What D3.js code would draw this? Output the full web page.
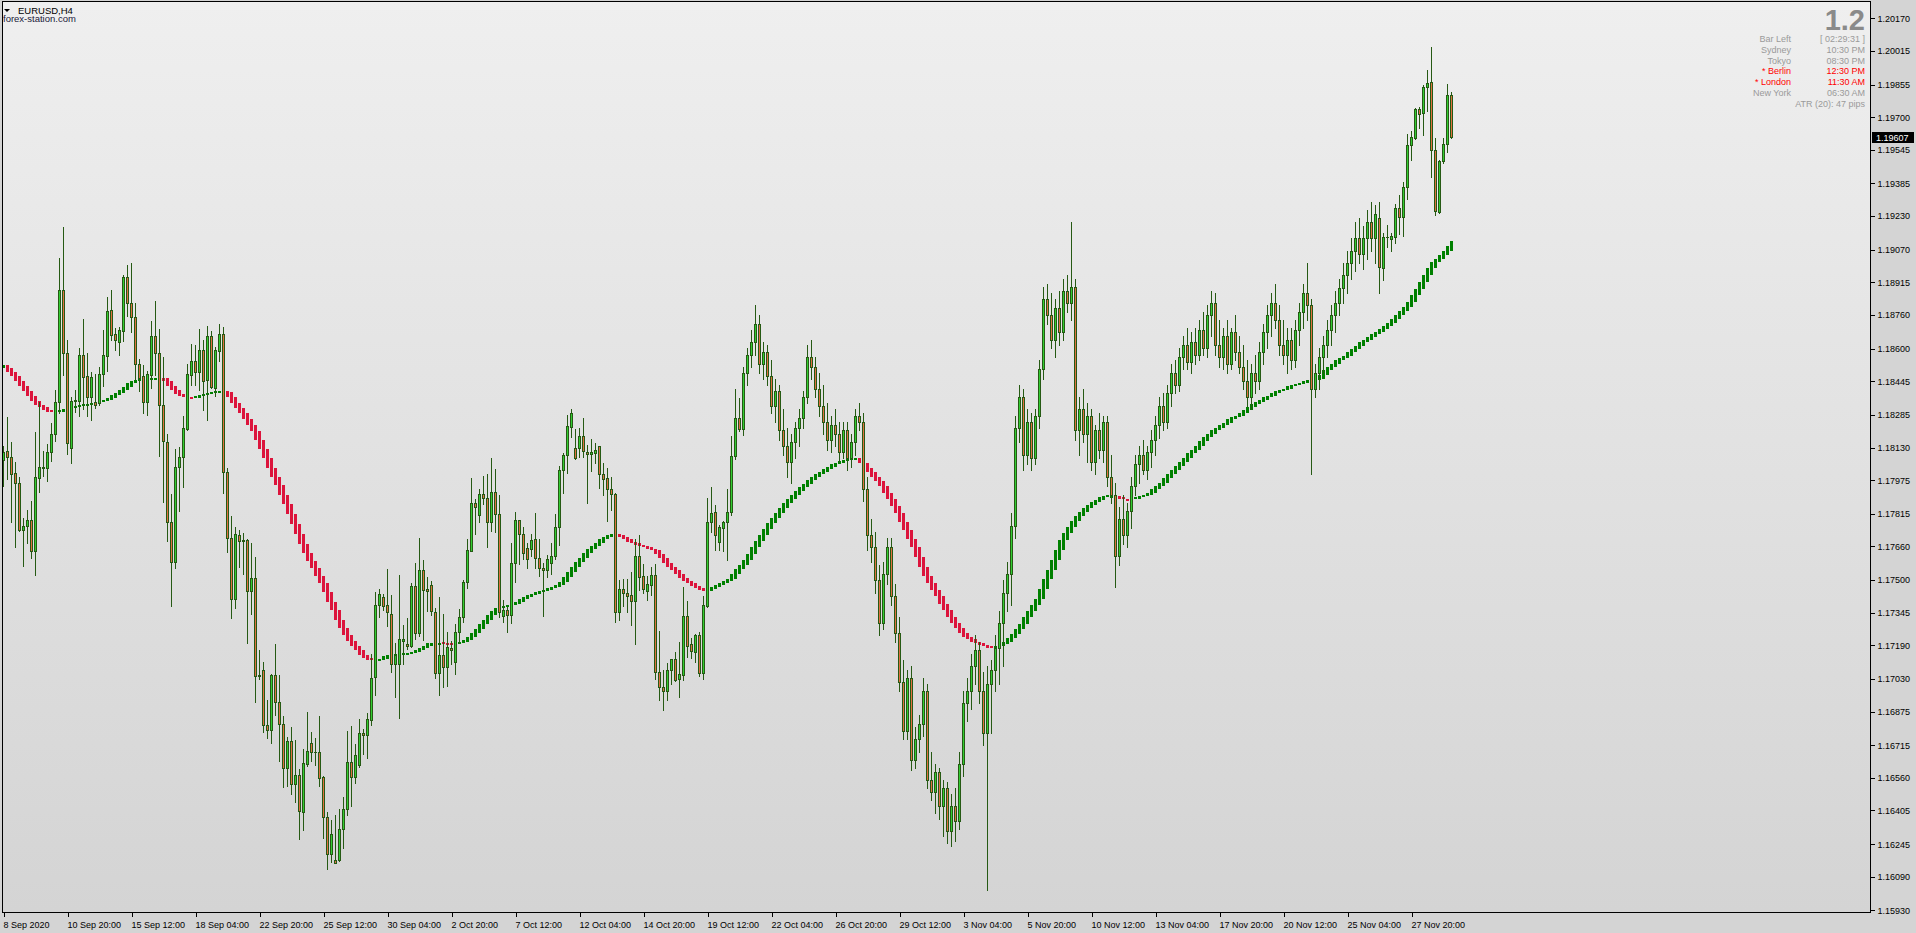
<!DOCTYPE html>
<html><head><meta charset="utf-8">
<script src="https://cdn.jsdelivr.net/npm/d3@7"></script>
<style>
html,body{margin:0;padding:0;background:#d4d4d4;overflow:hidden;}
svg{display:block;}
text{font-family:"Liberation Sans",Arial,sans-serif;}
</style></head><body>
<svg id="c" width="1916" height="933"></svg>
<script>
// ---------- DATA ----------
const opens = [1.18073,1.18115,1.18083,1.18010,1.17962,1.17736,1.17755,1.17784,1.17636,1.17987,
1.18037,1.18031,1.18108,1.18192,1.18345,1.18878,1.18579,1.18129,1.18349,1.18353,
1.18570,1.18470,1.18372,1.18347,1.18340,1.18478,1.18564,1.18783,1.18669,1.18633,
1.18685,1.18940,1.18819,1.18748,1.18529,1.18470,1.18345,1.18476,1.18660,1.18579,
1.18332,1.18156,1.17774,1.17588,1.18037,1.18083,1.18219,1.18476,1.18539,1.18487,
1.18593,1.18449,1.18660,1.18414,1.18591,1.18669,1.18014,1.17701,1.17410,1.17713,
1.17690,1.17690,1.17448,1.17509,1.17043,1.17074,1.16813,1.16788,1.17051,1.16919,
1.16815,1.16606,1.16735,1.16533,1.16572,1.16397,1.16627,1.16725,1.16685,1.16683,
1.16562,1.16374,1.16198,1.16171,1.16171,1.16317,1.16411,1.16637,1.16564,1.16620,
1.16773,1.16762,1.16834,1.17038,1.17383,1.17419,1.17383,1.17341,1.17101,1.17101,
1.17210,1.17197,1.17185,1.17471,1.17247,1.17546,1.17458,1.17475,1.17348,1.17059,
1.17143,1.17086,1.17176,1.17111,1.17252,1.17325,1.17492,1.17640,1.17866,1.17807,
1.17910,1.17889,1.17778,1.17917,1.17813,1.17331,1.17356,1.17336,1.17580,1.17784,
1.17717,1.17653,1.17649,1.17693,1.17607,1.17556,1.17546,1.17580,1.17613,1.17753,
1.18022,1.18093,1.18229,1.18126,1.18126,1.18184,1.18111,1.18097,1.18106,1.18135,
1.18004,1.17984,1.17933,1.17911,1.17347,1.17456,1.17440,1.17429,1.17402,1.17616,
1.17518,1.17449,1.17478,1.17522,1.17065,1.16994,1.16974,1.17071,1.17124,1.17031,
1.17047,1.17327,1.17195,1.17156,1.17238,1.17056,1.17376,1.17775,1.17824,1.17682,
1.17749,1.17775,1.17824,1.18088,1.18269,1.18218,1.18485,1.18572,1.18631,1.18718,
1.18526,1.18584,1.18468,1.18328,1.18398,1.18212,1.18137,1.18061,1.18154,1.18224,
1.18270,1.18369,1.18561,1.18514,1.18410,1.18328,1.18253,1.18166,1.18235,1.18195,
1.18108,1.18212,1.18079,1.18154,1.18282,1.18253,1.17933,1.17713,1.17655,1.17498,
1.17295,1.17527,1.17655,1.17423,1.17249,1.17016,1.16783,1.17033,1.16644,1.16743,
1.16818,1.16975,1.16551,1.16493,1.16586,1.16424,1.16511,1.16308,1.16424,1.16354,
1.16627,1.16917,1.16975,1.17092,1.17167,1.16975,1.16772,1.17004,1.17074,1.17179,
1.17295,1.17440,1.17527,1.17759,1.18224,1.18369,1.18096,1.18253,1.18079,1.18282,
1.18503,1.18834,1.18758,1.18642,1.18793,1.18677,1.18874,1.18816,1.18892,1.18212,
1.18311,1.18195,1.18282,1.18061,1.18212,1.18119,1.18253,1.17991,1.17904,1.17614,
1.17788,1.17713,1.17829,1.17945,1.18050,1.18096,1.18021,1.18108,1.18166,1.18235,
1.18328,1.18253,1.18387,1.18485,1.18427,1.18561,1.18619,1.18538,1.18631,1.18572,
1.18688,1.18602,1.18758,1.18816,1.18619,1.18561,1.18660,1.18526,1.18677,1.18584,
1.18514,1.18445,1.18369,1.18485,1.18445,1.18584,1.18677,1.18758,1.18816,1.18735,
1.18619,1.18572,1.18642,1.18544,1.18688,1.18776,1.18863,1.18805,1.18410,1.18485,
1.18561,1.18619,1.18688,1.18758,1.18816,1.18886,1.18950,1.19008,1.19066,1.19124,
1.19049,1.19124,1.19200,1.19124,1.19223,1.18982,1.19129,1.19123,1.19132,1.19267,
1.19227,1.19367,1.19566,1.19600,1.19737,1.19722,1.19845,1.19866,1.19543,1.19251,
1.19493,1.19571,1.19804];
const highs = [1.18136,1.18276,1.18156,1.18060,1.17989,1.17795,1.17833,1.17874,1.18202,1.18345,
1.18113,1.18146,1.18246,1.18403,1.19030,1.19176,1.18643,1.18370,1.18403,1.18604,
1.18742,1.18579,1.18491,1.18480,1.18512,1.18689,1.18846,1.18878,1.18700,1.18704,
1.18951,1.18997,1.19007,1.18817,1.18552,1.18522,1.18493,1.18729,1.18825,1.18694,
1.18558,1.18194,1.17910,1.18121,1.18134,1.18282,1.18526,1.18623,1.18616,1.18694,
1.18641,1.18708,1.18683,1.18608,1.18717,1.18702,1.18031,1.17805,1.17753,1.17738,
1.17722,1.17697,1.17678,1.17611,1.17168,1.17111,1.16932,1.17055,1.17197,1.17051,
1.16854,1.16752,1.16802,1.16742,1.16604,1.16698,1.16873,1.16779,1.16750,1.16854,
1.16568,1.16399,1.16359,1.16384,1.16411,1.16468,1.16783,1.16808,1.16719,1.16842,
1.16794,1.16869,1.17149,1.17444,1.17458,1.17433,1.17552,1.17429,1.17201,1.17523,
1.17287,1.17318,1.17488,1.17582,1.17701,1.17596,1.17513,1.17496,1.17369,1.17421,
1.17341,1.17254,1.17212,1.17289,1.17364,1.17500,1.17697,1.17983,1.17885,1.17933,
1.17993,1.18004,1.18081,1.18028,1.17904,1.17407,1.17371,1.17676,1.17824,1.17787,
1.17753,1.17678,1.17718,1.17818,1.17695,1.17580,1.17620,1.17676,1.17813,1.18040,
1.18104,1.18286,1.18313,1.18218,1.18222,1.18269,1.18140,1.18169,1.18151,1.18138,
1.18057,1.18033,1.17989,1.17913,1.17500,1.17507,1.17507,1.17536,1.17693,1.17715,
1.17576,1.17520,1.17560,1.17578,1.17258,1.17073,1.17104,1.17127,1.17158,1.17205,
1.17467,1.17400,1.17224,1.17242,1.17253,1.17424,1.17889,1.17942,1.17857,1.17762,
1.17782,1.17935,1.18186,1.18408,1.18366,1.18514,1.18602,1.18688,1.18805,1.18758,
1.18631,1.18619,1.18544,1.18456,1.18427,1.18311,1.18224,1.18195,1.18253,1.18311,
1.18398,1.18619,1.18642,1.18561,1.18485,1.18427,1.18340,1.18282,1.18311,1.18253,
1.18253,1.18253,1.18195,1.18311,1.18340,1.18294,1.17991,1.17788,1.17730,1.17574,
1.17585,1.17701,1.17701,1.17481,1.17324,1.17121,1.17074,1.17092,1.16801,1.16859,
1.17033,1.17004,1.16685,1.16627,1.16609,1.16551,1.16540,1.16482,1.16511,1.16685,
1.16975,1.17033,1.17150,1.17237,1.17208,1.17062,1.17092,1.17121,1.17237,1.17353,
1.17498,1.17585,1.17817,1.18282,1.18427,1.18410,1.18311,1.18294,1.18311,1.18544,
1.18892,1.18909,1.18863,1.18834,1.18874,1.18932,1.18950,1.19200,1.18932,1.18369,
1.18410,1.18340,1.18311,1.18235,1.18294,1.18282,1.18282,1.18096,1.17962,1.17846,
1.17904,1.17864,1.17991,1.18096,1.18137,1.18166,1.18137,1.18212,1.18282,1.18369,
1.18387,1.18427,1.18526,1.18544,1.18602,1.18660,1.18700,1.18677,1.18700,1.18735,
1.18776,1.18805,1.18874,1.18863,1.18735,1.18700,1.18735,1.18700,1.18758,1.18660,
1.18619,1.18544,1.18526,1.18572,1.18631,1.18718,1.18805,1.18863,1.18909,1.18805,
1.18735,1.18700,1.18700,1.18735,1.18816,1.18909,1.19008,1.18834,1.18526,1.18602,
1.18660,1.18735,1.18805,1.18874,1.18932,1.19008,1.19066,1.19124,1.19200,1.19223,
1.19182,1.19258,1.19298,1.19281,1.19298,1.19148,1.19188,1.19148,1.19287,1.19330,
1.19390,1.19620,1.19634,1.19742,1.19747,1.19851,1.19924,1.20034,1.19600,1.19497,
1.19601,1.19856,1.19820];
const lows = [1.17947,1.17979,1.17776,1.17655,1.17734,1.17569,1.17674,1.17607,1.17525,1.17920,
1.17993,1.17973,1.18067,1.18159,1.18292,1.18476,1.18100,1.18058,1.18299,1.18282,
1.18313,1.18278,1.18261,1.18317,1.18334,1.18424,1.18495,1.18641,1.18593,1.18572,
1.18637,1.18754,1.18679,1.18455,1.18397,1.18292,1.18284,1.18411,1.18476,1.18092,
1.17872,1.17688,1.17375,1.17557,1.17830,1.17941,1.18215,1.18428,1.18428,1.18401,
1.18307,1.18263,1.18414,1.18374,1.18541,1.17912,1.17632,1.17318,1.17366,1.17561,
1.17527,1.17203,1.17337,1.16919,1.17028,1.16779,1.16748,1.16725,1.16857,1.16641,
1.16516,1.16520,1.16484,1.16443,1.16269,1.16311,1.16616,1.16641,1.16620,1.16522,
1.16275,1.16125,1.16161,1.16154,1.16167,1.16227,1.16384,1.16426,1.16537,1.16610,
1.16673,1.16654,1.16811,1.16953,1.17323,1.17360,1.17283,1.17061,1.16944,1.16846,
1.17099,1.17174,1.17183,1.17222,1.17233,1.17216,1.17352,1.17335,1.17034,1.16955,
1.16992,1.16997,1.17101,1.17053,1.17203,1.17302,1.17463,1.17638,1.17718,1.17778,
1.17862,1.17655,1.17732,1.17729,1.17325,1.17302,1.17251,1.17298,1.17493,1.17578,
1.17602,1.17558,1.17616,1.17558,1.17520,1.17331,1.17516,1.17531,1.17602,1.17667,
1.17913,1.18011,1.18182,1.18077,1.18086,1.18086,1.17866,1.18020,1.18055,1.17937,
1.17904,1.17780,1.17835,1.17302,1.17309,1.17378,1.17347,1.17285,1.17196,1.17453,
1.17440,1.17405,1.17429,1.17029,1.16929,1.16883,1.16929,1.17007,1.17018,1.16942,
1.17025,1.17134,1.17131,1.17111,1.17044,1.17031,1.17371,1.17729,1.17644,1.17642,
1.17640,1.17596,1.17811,1.18077,1.18208,1.18189,1.18427,1.18514,1.18572,1.18485,
1.18456,1.18427,1.18294,1.18253,1.18166,1.18096,1.17991,1.17962,1.18079,1.18137,
1.18224,1.18340,1.18456,1.18369,1.18282,1.18195,1.18119,1.18108,1.18137,1.18061,
1.18079,1.18021,1.18038,1.18096,1.18212,1.17875,1.17643,1.17585,1.17440,1.17237,
1.17266,1.17481,1.17382,1.17208,1.16975,1.16743,1.16743,1.16598,1.16609,1.16685,
1.16760,1.16511,1.16453,1.16395,1.16366,1.16284,1.16250,1.16238,1.16261,1.16319,
1.16569,1.16830,1.16888,1.17004,1.16917,1.16714,1.16029,1.16772,1.16975,1.17004,
1.17092,1.17353,1.17382,1.17701,1.18154,1.18021,1.18050,1.18021,1.18050,1.18224,
1.18456,1.18718,1.18602,1.18561,1.18619,1.18642,1.18776,1.18735,1.18166,1.18096,
1.18154,1.18061,1.18021,1.18003,1.18079,1.18061,1.17945,1.17864,1.17469,1.17574,
1.17672,1.17655,1.17748,1.17904,1.17962,1.18003,1.17980,1.18038,1.18096,1.18177,
1.18212,1.18224,1.18328,1.18387,1.18398,1.18503,1.18503,1.18485,1.18526,1.18544,
1.18572,1.18561,1.18660,1.18572,1.18514,1.18503,1.18485,1.18503,1.18544,1.18485,
1.18410,1.18328,1.18311,1.18387,1.18410,1.18526,1.18602,1.18660,1.18700,1.18572,
1.18526,1.18485,1.18503,1.18514,1.18619,1.18700,1.18735,1.18003,1.18369,1.18410,
1.18485,1.18561,1.18619,1.18677,1.18758,1.18816,1.18863,1.18932,1.18967,1.19008,
1.18979,1.19025,1.19066,1.19008,1.18863,1.18926,1.19085,1.19066,1.19101,1.19146,
1.19135,1.19311,1.19497,1.19598,1.19650,1.19615,1.19731,1.19417,1.19235,1.19246,
1.19481,1.19536,1.19603];
const closes = [1.18111,1.18083,1.18006,1.17962,1.17736,1.17757,1.17784,1.17636,1.17989,1.18037,
1.18031,1.18108,1.18192,1.18345,1.18878,1.18579,1.18150,1.18349,1.18355,1.18570,
1.18464,1.18372,1.18466,1.18330,1.18480,1.18570,1.18779,1.18666,1.18639,1.18689,
1.18940,1.18819,1.18748,1.18529,1.18460,1.18345,1.18480,1.18660,1.18577,1.18330,
1.18163,1.17774,1.17588,1.18037,1.18083,1.18223,1.18478,1.18539,1.18487,1.18593,
1.18445,1.18660,1.18416,1.18593,1.18669,1.18014,1.17701,1.17410,1.17718,1.17686,
1.17684,1.17448,1.17509,1.17043,1.17049,1.16811,1.16788,1.17051,1.16919,1.16815,
1.16606,1.16735,1.16530,1.16572,1.16401,1.16631,1.16687,1.16683,1.16683,1.16558,
1.16374,1.16198,1.16292,1.16156,1.16317,1.16411,1.16637,1.16564,1.16668,1.16773,
1.16762,1.16840,1.17034,1.17383,1.17433,1.17379,1.17348,1.17101,1.17143,1.17220,
1.17222,1.17185,1.17471,1.17247,1.17546,1.17452,1.17446,1.17352,1.17059,1.17145,
1.17086,1.17180,1.17166,1.17252,1.17325,1.17492,1.17642,1.17864,1.17847,1.17908,
1.17889,1.17778,1.17918,1.17813,1.17347,1.17358,1.17336,1.17580,1.17784,1.17717,
1.17631,1.17602,1.17689,1.17607,1.17556,1.17546,1.17602,1.17613,1.17753,1.18022,
1.18093,1.18231,1.18293,1.18078,1.18184,1.18113,1.18097,1.18108,1.18118,1.18002,
1.17982,1.17935,1.17911,1.17347,1.17456,1.17440,1.17425,1.17402,1.17615,1.17516,
1.17458,1.17480,1.17522,1.17065,1.16993,1.16974,1.17074,1.17124,1.17025,1.17053,
1.17327,1.17189,1.17165,1.17238,1.17056,1.17380,1.17775,1.17818,1.17713,1.17753,
1.17777,1.17824,1.18088,1.18269,1.18220,1.18485,1.18572,1.18631,1.18718,1.18526,
1.18584,1.18468,1.18328,1.18398,1.18212,1.18137,1.18061,1.18154,1.18224,1.18270,
1.18369,1.18561,1.18514,1.18410,1.18328,1.18253,1.18166,1.18235,1.18195,1.18108,
1.18212,1.18079,1.18154,1.18282,1.18253,1.17933,1.17713,1.17655,1.17498,1.17295,
1.17527,1.17655,1.17423,1.17249,1.17016,1.16783,1.17033,1.16644,1.16743,1.16818,
1.16975,1.16551,1.16493,1.16586,1.16424,1.16511,1.16308,1.16424,1.16354,1.16627,
1.16917,1.16975,1.17092,1.17167,1.16975,1.16772,1.17004,1.17074,1.17179,1.17295,
1.17440,1.17527,1.17759,1.18224,1.18369,1.18096,1.18253,1.18079,1.18282,1.18503,
1.18834,1.18758,1.18642,1.18793,1.18677,1.18874,1.18816,1.18892,1.18212,1.18311,
1.18195,1.18282,1.18061,1.18212,1.18119,1.18253,1.17991,1.17904,1.17614,1.17788,
1.17713,1.17829,1.17945,1.18050,1.18096,1.18021,1.18108,1.18166,1.18235,1.18328,
1.18253,1.18387,1.18485,1.18427,1.18561,1.18619,1.18538,1.18631,1.18572,1.18688,
1.18602,1.18758,1.18816,1.18619,1.18561,1.18660,1.18526,1.18677,1.18584,1.18514,
1.18445,1.18369,1.18485,1.18445,1.18584,1.18677,1.18758,1.18816,1.18735,1.18619,
1.18572,1.18642,1.18544,1.18688,1.18776,1.18863,1.18805,1.18410,1.18485,1.18561,
1.18619,1.18688,1.18758,1.18816,1.18886,1.18950,1.19008,1.19066,1.19124,1.19049,
1.19124,1.19200,1.19124,1.19240,1.18990,1.19129,1.19131,1.19135,1.19267,1.19227,
1.19367,1.19566,1.19604,1.19739,1.19717,1.19842,1.19861,1.19543,1.19256,1.19490,
1.19571,1.19804,1.19607];
const maValues = [1.18522,1.18506,1.18487,1.18468,1.18447,1.18422,1.18397,1.18374,1.18351,1.18332,
1.18322,1.18309,1.18301,1.18299,1.18301,1.18309,1.18315,1.18320,1.18324,1.18326,
1.18332,1.18336,1.18338,1.18340,1.18345,1.18349,1.18357,1.18365,1.18380,1.18391,
1.18401,1.18420,1.18437,1.18447,1.18453,1.18455,1.18457,1.18458,1.18459,1.18460,
1.18459,1.18447,1.18424,1.18405,1.18386,1.18374,1.18368,1.18365,1.18366,1.18374,
1.18378,1.18384,1.18388,1.18393,1.18399,1.18397,1.18393,1.18372,1.18343,1.18320,
1.18292,1.18265,1.18236,1.18207,1.18167,1.18125,1.18079,1.18035,1.17991,1.17952,
1.17906,1.17860,1.17812,1.17766,1.17720,1.17672,1.17628,1.17590,1.17555,1.17521,
1.17486,1.17444,1.17398,1.17356,1.17310,1.17272,1.17239,1.17210,1.17187,1.17166,
1.17145,1.17130,1.17120,1.17118,1.17120,1.17126,1.17137,1.17143,1.17145,1.17147,
1.17147,1.17153,1.17155,1.17160,1.17170,1.17178,1.17189,1.17199,1.17203,1.17204,
1.17201,1.17199,1.17198,1.17199,1.17201,1.17206,1.17214,1.17231,1.17247,1.17268,
1.17291,1.17312,1.17335,1.17355,1.17369,1.17376,1.17377,1.17380,1.17387,1.17398,
1.17409,1.17420,1.17427,1.17436,1.17444,1.17446,1.17451,1.17460,1.17466,1.17478,
1.17491,1.17515,1.17536,1.17560,1.17584,1.17606,1.17627,1.17646,1.17660,1.17676,
1.17693,1.17706,1.17713,1.17717,1.17713,1.17706,1.17693,1.17682,1.17675,1.17669,
1.17662,1.17656,1.17647,1.17642,1.17624,1.17606,1.17582,1.17562,1.17547,1.17527,
1.17511,1.17495,1.17485,1.17471,1.17462,1.17451,1.17450,1.17456,1.17466,1.17475,
1.17484,1.17495,1.17507,1.17529,1.17551,1.17574,1.17597,1.17626,1.17655,1.17684,
1.17713,1.17742,1.17771,1.17794,1.17818,1.17841,1.17864,1.17887,1.17905,1.17922,
1.17940,1.17957,1.17974,1.17992,1.18003,1.18015,1.18027,1.18038,1.18050,1.18056,
1.18067,1.18073,1.18079,1.18082,1.18079,1.18056,1.18033,1.18015,1.17992,1.17969,
1.17945,1.17916,1.17887,1.17852,1.17818,1.17777,1.17736,1.17696,1.17655,1.17609,
1.17562,1.17521,1.17487,1.17452,1.17423,1.17388,1.17359,1.17324,1.17295,1.17272,
1.17248,1.17231,1.17219,1.17208,1.17202,1.17190,1.17185,1.17179,1.17181,1.17186,
1.17196,1.17208,1.17225,1.17243,1.17266,1.17289,1.17324,1.17353,1.17382,1.17411,
1.17458,1.17504,1.17550,1.17597,1.17643,1.17690,1.17725,1.17754,1.17783,1.17806,
1.17823,1.17841,1.17858,1.17870,1.17882,1.17893,1.17899,1.17905,1.17899,1.17893,
1.17887,1.17884,1.17886,1.17887,1.17893,1.17899,1.17905,1.17916,1.17934,1.17945,
1.17963,1.17986,1.18003,1.18021,1.18044,1.18062,1.18079,1.18102,1.18120,1.18137,
1.18160,1.18178,1.18195,1.18213,1.18224,1.18236,1.18247,1.18265,1.18276,1.18282,
1.18294,1.18306,1.18323,1.18335,1.18346,1.18358,1.18369,1.18375,1.18387,1.18398,
1.18404,1.18410,1.18422,1.18427,1.18433,1.18439,1.18445,1.18451,1.18452,1.18457,
1.18474,1.18497,1.18515,1.18526,1.18544,1.18555,1.18567,1.18584,1.18596,1.18613,
1.18631,1.18642,1.18655,1.18668,1.18680,1.18693,1.18708,1.18723,1.18741,1.18758,
1.18777,1.18800,1.18822,1.18853,1.18883,1.18915,1.18948,1.18985,1.19010,1.19026,
1.19044,1.19063,1.19088];
const priceTicks = [1.20170,1.20015,1.19855,1.19700,1.19545,1.19385,1.19230,1.19070,1.18915,1.18760,
1.18600,1.18445,1.18285,1.18130,1.17975,1.17815,1.17660,1.17500,1.17345,1.17190,
1.17030,1.16875,1.16715,1.16560,1.16405,1.16245,1.16090,1.15930];
const timeLabels = ["8 Sep 2020","10 Sep 20:00","15 Sep 12:00","18 Sep 04:00","22 Sep 20:00","25 Sep 12:00",
"30 Sep 04:00","2 Oct 20:00","7 Oct 12:00","12 Oct 04:00","14 Oct 20:00","19 Oct 12:00","22 Oct 04:00",
"26 Oct 20:00","29 Oct 12:00","3 Nov 04:00","5 Nov 20:00","10 Nov 12:00","13 Nov 04:00","17 Nov 20:00",
"20 Nov 12:00","25 Nov 04:00","27 Nov 20:00"];
const barsPerLabel = 16;
const currentPrice = 1.19607;
const symbolTitle = "EURUSD,H4";
const siteName = "forex-station.com";
const bigValue = "1.2";
const sessionNames = ["Bar Left","Sydney","Tokyo","* Berlin","* London","New York"];
const sessionTimes = ["[ 02:29:31 ]","10:30 PM","08:30 PM","12:30 PM","11:30 AM","06:30 AM"];
const sessionOpen = [false,false,false,true,true,false];
const atrText = "ATR (20): 47 pips";

// ---------- LAYOUT ----------
const W = 1916, H = 933;
const L = 2, T = 1, R = 1870, B = 912;
const svg = d3.select("#c");
const defs = svg.append("defs");
const grad = defs.append("linearGradient").attr("id","bg").attr("x1",0).attr("y1",0).attr("x2",0).attr("y2",1);
grad.append("stop").attr("offset","0%").attr("stop-color","#efefef");
grad.append("stop").attr("offset","100%").attr("stop-color","#d4d4d4");

svg.append("rect").attr("width",W).attr("height",H).attr("fill","#d4d4d4");
svg.append("rect").attr("x",L).attr("y",T).attr("width",R-L).attr("height",B-T).attr("fill","url(#bg)");

const x = d3.scaleLinear().domain([0,1]).range([3,7]);
const y = d3.scaleLinear().domain([1.15930,1.20170]).range([910.4,18.3]);
const py = v => Math.round(y(v));

const plot = svg.append("g").attr("shape-rendering","crispEdges");
const clip = defs.append("clipPath").attr("id","pc");
clip.append("rect").attr("x",L+1).attr("y",T+1).attr("width",R-L-1).attr("height",B-T-1);
plot.attr("clip-path","url(#pc)");

// MA blocks: each bar spans from the previous to the next MA value
const n = maValues.length;
const maSpan = i => {
  const a = maValues[Math.max(0,i-1)];
  const b = i < n-1 ? maValues[i+1] : 2*maValues[i] - maValues[i-1];
  return [py(a), py(b)];
};
plot.append("g").selectAll("rect").data(d3.range(n)).join("rect")
  .attr("x", i => x(i)-1)
  .attr("width", 3)
  .attr("y", i => d3.min(maSpan(i)))
  .attr("height", i => { const s = maSpan(i); return Math.max(2, Math.abs(s[0]-s[1])); })
  .attr("fill", i => (i>0 && maValues[i] < maValues[i-1]) ? "#dc143c" : "#008000");

// Candles
const idx = d3.range(opens.length);
const cg = plot.append("g").selectAll("g").data(idx).join("g");
const edge = "#265a14";
const bTop = i => py(Math.max(opens[i],closes[i]));
const bBot = i => py(Math.min(opens[i],closes[i]));
cg.append("rect").attr("x", i => x(i)).attr("width",1)
  .attr("y", i => py(highs[i])).attr("height", i => py(lows[i]) - py(highs[i]) + 1)
  .attr("fill", edge);
cg.append("rect").attr("x", i => x(i)-1).attr("width",3)
  .attr("y", bTop).attr("height", i => bBot(i) - bTop(i) + 1)
  .attr("fill", edge);
cg.filter(i => bBot(i) - bTop(i) >= 2)
  .append("rect").attr("x", i => x(i)).attr("width",1)
  .attr("y", i => bTop(i) + 1)
  .attr("height", i => bBot(i) - bTop(i) - 1)
  .attr("fill", i => closes[i] >= opens[i] ? "#32cd32" : "#e07040");

// Frame
svg.append("rect").attr("x",L+0.5).attr("y",T+0.5).attr("width",R-L).attr("height",B-T)
  .attr("fill","none").attr("stroke","#000").attr("shape-rendering","crispEdges");

// Price axis
const ya = svg.append("g").attr("transform",`translate(${R+0.5},0)`).attr("shape-rendering","crispEdges")
  .call(d3.axisRight(y).tickValues(priceTicks).tickFormat(d3.format(".5f")).tickSize(4).tickPadding(3));
ya.select(".domain").remove();
ya.selectAll("line").attr("stroke","#000");
ya.selectAll("text").attr("fill","#000").attr("font-size","9px").attr("font-family","Liberation Sans, Arial, sans-serif");

// current price label
const cpy = Math.round(y(currentPrice));
svg.append("rect").attr("x",R+2).attr("y",cpy-5).attr("width",42).attr("height",11).attr("fill","#000");
svg.append("text").attr("x",R+6).attr("y",cpy+3.5).attr("fill","#fff").attr("font-size","9px").text(d3.format(".5f")(currentPrice));

// Time axis
const tIdx = timeLabels.map((d,k) => k*barsPerLabel);
const xa = svg.append("g").attr("transform",`translate(0,${B+0.5})`).attr("shape-rendering","crispEdges")
  .call(d3.axisBottom(x).tickValues(tIdx).tickFormat((d,k) => timeLabels[k]).tickSize(4).tickPadding(2));
xa.select(".domain").remove();
xa.selectAll("line").attr("stroke","#000").attr("transform","translate(0.5,0)");
xa.selectAll("text").attr("text-anchor","start").attr("x",0).attr("dy","1.1em").attr("fill","#000")
  .attr("font-size","9px").attr("font-family","Liberation Sans, Arial, sans-serif");

// Title top-left
svg.append("path").attr("d","M4,9 L10,9 L7,12 Z").attr("fill","#000");
svg.append("text").attr("x",18).attr("y",14).attr("font-size","9.5px").attr("fill","#000").text(symbolTitle);
svg.append("text").attr("x",3).attr("y",22).attr("font-size","9.5px").attr("fill","#1a1a3a").text(siteName);

// Info panel
svg.append("text").attr("x",1865).attr("y",30).attr("text-anchor","end").attr("font-size","29px")
  .attr("font-weight","bold").attr("fill","#8a8a8a").text(bigValue);
const rowY = d3.scaleLinear().domain([0,1]).range([42,52.8]);
svg.append("g").selectAll("text").data(sessionNames).join("text")
  .attr("x",1791).attr("y",(d,i)=>rowY(i)).attr("text-anchor","end").attr("font-size","9px")
  .attr("fill",(d,i)=>sessionOpen[i]?"#ff0000":"#9a9a9a").text(d=>d);
svg.append("g").selectAll("text").data(sessionTimes).join("text")
  .attr("x",1865).attr("y",(d,i)=>rowY(i)).attr("text-anchor","end").attr("font-size","9px")
  .attr("fill",(d,i)=>sessionOpen[i]?"#ff0000":"#9a9a9a").text(d=>d);
svg.append("text").attr("x",1865).attr("y",rowY(6)).attr("text-anchor","end").attr("font-size","9px")
  .attr("fill","#9a9a9a").text(atrText);
</script>
</body></html>
